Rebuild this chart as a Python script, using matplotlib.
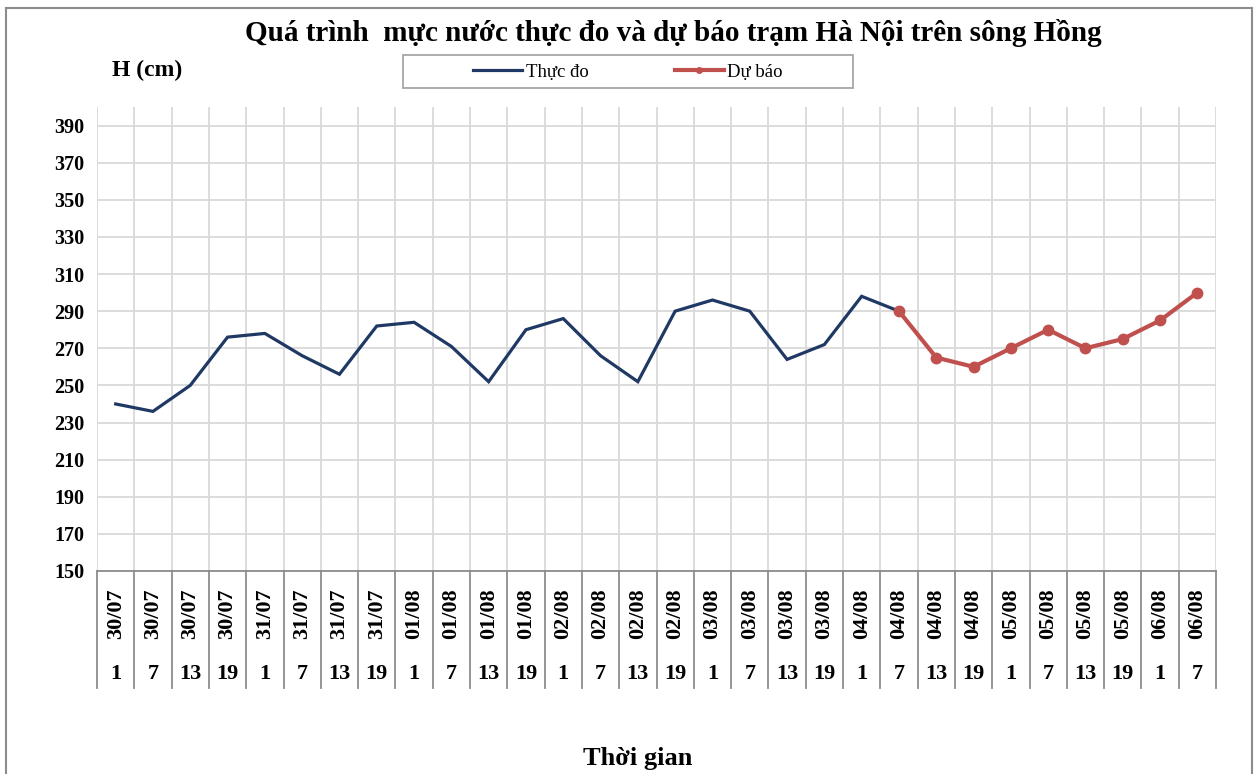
import numpy as np
import matplotlib
matplotlib.use('Agg')
import matplotlib.pyplot as plt
from matplotlib.lines import Line2D
from matplotlib.patches import Rectangle

# Data
dates = ['30/07'] * 4 + ['31/07'] * 4 + ['01/08'] * 4 + ['02/08'] * 4 + \
        ['03/08'] * 4 + ['04/08'] * 4 + ['05/08'] * 4 + ['06/08'] * 2
hours = ['1', '7', '13', '19'] * 7 + ['1', '7']

observed = [240, 236, 250, 276, 278, 266, 256, 282, 284, 271, 252,
            280, 286, 266, 252, 290, 296, 290, 264, 272, 298, 290]
forecast = [290, 265, 260, 270, 280, 270, 275, 285, 300]
forecast_start = 21

y_ticks = list(range(150, 391, 20))

title = 'Quá trình  mực nước thực đo và dự báo trạm Hà Nội trên sông Hồng'
navy = '#1F3864'
red = '#C0504D'
grid_col = '#D9D9D9'
edge_col = '#8C8C8C'

plt.rcParams['font.family'] = ['Liberation Serif', 'DejaVu Serif']

W, H = 1257, 774
fig = plt.figure(figsize=(W / 100, H / 100), dpi=100)
fig.patch.set_facecolor('white')


def fx(px):
    return px / W


def fy(py):
    return 1 - py / H


left, right, top, bottom = 97, 1216, 107, 571
ax = fig.add_axes([fx(left), fy(bottom), fx(right - left), (bottom - top) / H])

n = len(dates)
x = np.arange(n)
ax.plot(x[:len(observed)], observed, color=navy, lw=2.3, solid_joinstyle='miter', zorder=3)
xf = np.arange(forecast_start, forecast_start + len(forecast))
ax.plot(xf, forecast, color=red, lw=3, marker='o', ms=7.5, zorder=4)

ax.set_xlim(-0.5, n - 0.5)
ax.set_ylim(150, 400)
ax.set_yticks(y_ticks)
ax.set_yticklabels([str(v) for v in y_ticks], fontweight='bold', fontsize=14.5)
ax.tick_params(axis='y', length=0, pad=9)
ax.set_xticks([])
ax.set_xticks(np.arange(-0.5, n, 1), minor=True)
ax.tick_params(axis='x', which='both', length=0, labelbottom=False)
ax.grid(True, axis='y', which='major', color=grid_col, lw=1.3)
ax.grid(True, axis='x', which='minor', color=grid_col, lw=1.3)
ax.set_axisbelow(True)
for s in ['left', 'right', 'top']:
    ax.spines[s].set_visible(False)
ax.spines['bottom'].set_color(edge_col)
ax.spines['bottom'].set_linewidth(1.3)

# category table under the axis
tr = ax.get_xaxis_transform()
for b in np.arange(-0.5, n, 1):
    ax.plot([b, b], [0, -0.252], transform=tr, color=edge_col, lw=1.3, clip_on=False)
for i in range(n):
    ax.text(i, -0.093, dates[i], transform=tr, rotation=90, ha='center', va='center',
            fontsize=16, fontweight='bold')
    ax.text(i, -0.221, hours[i], transform=tr, ha='center', va='center',
            fontsize=16, fontweight='bold')

# texts
fig.text(fx(673), fy(33), title, ha='center', va='center', fontsize=21, fontweight='bold')
fig.text(fx(147), fy(70), 'H (cm)', ha='center', va='center', fontsize=17, fontweight='bold')
fig.text(fx(638), fy(758), 'Thời gian', ha='center', va='center', fontsize=19, fontweight='bold')

# legend
fig.patches.append(Rectangle((fx(403), fy(88)), fx(450), 33 / H, transform=fig.transFigure,
                             fill=False, edgecolor='#A6A6A6', lw=1.3))
handles = [Line2D([], [], color=navy, lw=2.3),
           Line2D([], [], color=red, lw=3, marker='o', ms=4)]
fig.legend(handles, ['Thực đo', 'Dự báo'], loc='center', bbox_to_anchor=(fx(628), fy(72)),
           ncol=2, frameon=False, fontsize=13.5, handlelength=2.6, handletextpad=0.2,
           columnspacing=4.6)

# chart border
for xs, ys in [([6, 6], [H, 8]), ([6, 1252], [8, 8]), ([1252, 1252], [8, H])]:
    fig.add_artist(Line2D([fx(v) for v in xs], [fy(v) for v in ys], color=edge_col, lw=1.5,
                          transform=fig.transFigure))

fig.savefig('out.png', dpi=100, facecolor='white')
